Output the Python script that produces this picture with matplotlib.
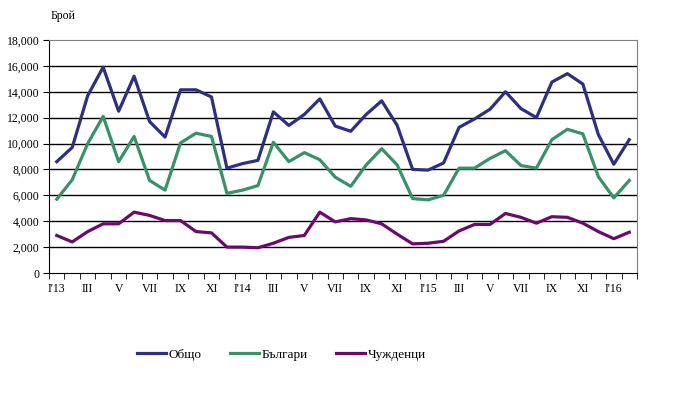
import numpy as np
import matplotlib.pyplot as plt
from matplotlib.ticker import FuncFormatter, MultipleLocator

plt.rcParams['font.family'] = ['Liberation Serif', 'DejaVu Serif']

# monthly values, Jan 2013 - Feb 2016
obshto = [8600, 9700, 13700, 15900, 12500, 15200, 11700, 10500, 14150, 14150, 13600, 8100,
          8450, 8700, 12450, 11400, 12250, 13450, 11350, 10950, 12250, 13300, 11400, 8000,
          7950, 8500, 11250, 11900, 12650, 14000, 12700, 12000, 14750, 15400, 14600, 10700,
          8400, 10300]
bulgari = [5700, 7200, 10000, 12100, 8600, 10550, 7150, 6400, 10050, 10800, 10550, 6150,
           6400, 6750, 10100, 8600, 9300, 8750, 7400, 6700, 8350, 9600, 8350, 5750,
           5650, 6000, 8100, 8100, 8850, 9450, 8300, 8100, 10300, 11100, 10750, 7450,
           5800, 7150]
chuzhdenci = [2900, 2400, 3200, 3800, 3800, 4700, 4450, 4050, 4050, 3200, 3100, 2000,
              2000, 1950, 2300, 2750, 2900, 4700, 3950, 4200, 4100, 3800, 3000, 2250,
              2300, 2450, 3250, 3750, 3750, 4600, 4300, 3850, 4350, 4300, 3850, 3200,
              2650, 3150]
month_labels = ["I'13", 'III', 'V', 'VII', 'IX', 'XI',
                "I'14", 'III', 'V', 'VII', 'IX', 'XI',
                "I'15", 'III', 'V', 'VII', 'IX', 'XI',
                "I'16"]

x = np.arange(len(obshto))

fig = plt.figure(figsize=(7, 4), dpi=100)
ax = fig.add_axes([0.07, 0.3175, 0.84, 0.5825])

ax.plot(x, obshto, color='#2f2f7f', lw=2.3, label='Общо', zorder=3)
ax.plot(x, bulgari, color='#3a9068', lw=2.3, label='Българи', zorder=3)
ax.plot(x, chuzhdenci, color='#6a0a6a', lw=2.3, label='Чужденци', zorder=3)

ax.set_xlim(-0.5, len(x) - 0.5)
ax.set_ylim(0, 18000)

# gridlines every 2000
for v in range(2000, 18000, 2000):
    ax.axhline(v, color='black', lw=1, zorder=1)

ax.yaxis.set_major_locator(MultipleLocator(2000))
ax.yaxis.set_major_formatter(FuncFormatter(lambda v, p: f'{int(v):,}'))

ax.set_xticks(x[::2])
ax.set_xticklabels(month_labels)
ax.set_xticks(np.arange(-0.5, len(x)), minor=True)
ax.tick_params(axis='x', which='major', length=0, pad=7)
ax.tick_params(axis='x', which='minor', length=4, direction='out', color='black')
ax.tick_params(axis='y', length=4, direction='out', pad=3)
ax.tick_params(labelsize=8.5)

for s in ['top', 'right']:
    ax.spines[s].set_color('#808080')
for s in ['left', 'bottom']:
    ax.spines[s].set_color('black')

fig.text(0.09, 0.96, 'Брой', fontsize=8.5, ha='center', va='center')

fig.legend(loc='center', bbox_to_anchor=(0.402, 0.113), ncol=3, frameon=False,
           fontsize=9.5, handlelength=2.2, handletextpad=0.15, columnspacing=2.2)

fig.savefig('out.png', dpi=100)
